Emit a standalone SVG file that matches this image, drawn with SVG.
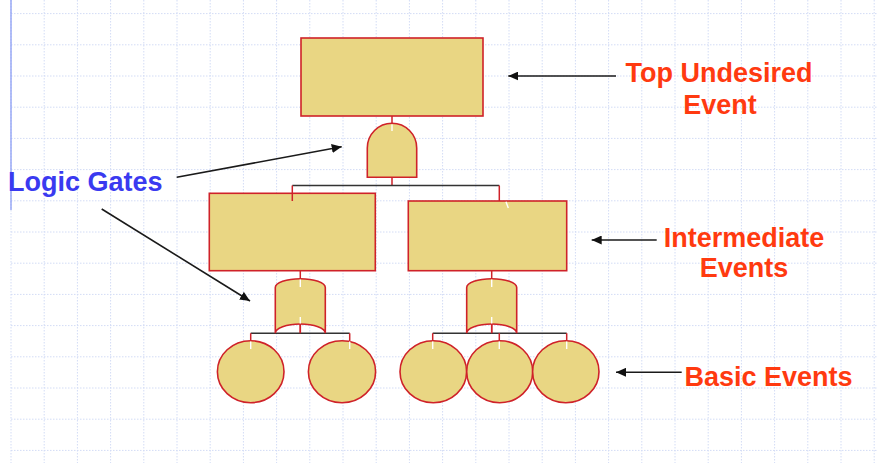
<svg xmlns="http://www.w3.org/2000/svg" width="877" height="463" viewBox="0 0 877 463">
<defs>
<style>
.grid{stroke:#d3dcf5;stroke-width:1;stroke-dasharray:1.5 1.5;fill:none}
.shape{fill:#e9d683;stroke:#cf2229;stroke-width:1.6}
.red{stroke:#cf2229;stroke-width:1.5;fill:none}
.blk{stroke:#333;stroke-width:1.5;fill:none}
.tick{stroke:#fff;stroke-width:1.4;fill:none}
.arrow{stroke:#1a1a1a;stroke-width:1.6;fill:none;marker-end:url(#ah)}
.lbl{font-family:"Liberation Sans",Arial,sans-serif;font-weight:bold;font-size:27px;fill:#ff3a10;text-anchor:middle}
.blue{fill:#3a3af0;text-anchor:start}
</style>
<marker id="ah" markerUnits="userSpaceOnUse" markerWidth="11" markerHeight="9" refX="10" refY="4.5" orient="auto">
<path d="M0,0 L10,4.5 L0,9 Z" fill="#111"/>
</marker>
</defs>
<rect width="877" height="463" fill="#fff"/>
<g id="grid">
<path class="grid" d="M11,0V463M44.2,0V463M77.4,0V463M110.6,0V463M143.8,0V463M177,0V463M210.2,0V463M243.4,0V463M276.6,0V463M309.8,0V463M343,0V463M376.2,0V463M409.4,0V463M442.6,0V463M475.8,0V463M509,0V463M542.2,0V463M575.4,0V463M608.6,0V463M641.8,0V463M675,0V463M708.2,0V463M741.4,0V463M774.6,0V463M807.8,0V463M841,0V463M874.2,0V463"/>
<path class="grid" d="M11,13.6H877M11,44.8H877M11,76H877M11,107.2H877M11,138.4H877M11,169.6H877M11,200.8H877M11,232H877M11,263.2H877M11,294.4H877M11,325.6H877M11,356.8H877M11,388H877M11,419.2H877M11,450.4H877"/>
<line x1="11" y1="0" x2="11" y2="210" stroke="#8a9cf5" stroke-width="1.3"/>
</g>
<g id="connectors">
<line class="red" x1="392" y1="116" x2="392" y2="124"/>
<line class="red" x1="392" y1="177" x2="392" y2="185.5"/>
<path class="blk" d="M292.3,185.5H499.3"/>
<line class="red" x1="292.3" y1="185.5" x2="292.3" y2="201"/>
<line class="red" x1="499.3" y1="185.5" x2="499.3" y2="201"/>
<line class="red" x1="300.3" y1="271" x2="300.3" y2="279"/>
<line class="red" x1="491.7" y1="271" x2="491.7" y2="279"/>
<line class="red" x1="300.3" y1="324" x2="300.3" y2="333.3"/>
<line class="red" x1="491.7" y1="324" x2="491.7" y2="333.3"/>
<path class="blk" d="M250.7,333.3H349.7M432.7,333.3H566.7"/>
<path class="red" d="M250.7,333.3V341M349.7,333.3V341M432.7,333.3V341M499.3,333.3V341M566.7,333.3V341"/>
</g>
<g id="top-event">
<rect class="shape" x="301" y="38" width="182" height="78"/>
</g>
<g id="and-gate">
<path class="shape" d="M367.3,177.3V148A24.7,24.7 0 0 1 416.7,148V177.3Z"/>
<line class="tick" x1="392" y1="124.5" x2="392" y2="131"/>
</g>
<g id="intermediate-left">
<rect class="shape" x="209.3" y="193.3" width="166" height="77.4"/>
<line class="red" x1="292.3" y1="193" x2="292.3" y2="201"/>
</g>
<g id="intermediate-right">
<rect class="shape" x="408.3" y="201" width="158.4" height="69.7"/>
<line class="tick" x1="506" y1="201.8" x2="508.3" y2="208"/>
</g>
<g id="or-gate-left">
<path class="shape" d="M275.3,333.3V287.5A25,8.8 0 0 1 325.3,287.5V333.3A25,9.3 0 0 0 275.3,333.3Z"/>
<line class="tick" x1="300.3" y1="279.5" x2="300.3" y2="287"/>
<line class="tick" x1="300.3" y1="317" x2="300.3" y2="323.5"/>
<line class="red" x1="300.3" y1="324" x2="300.3" y2="333.3"/>
</g>
<g id="or-gate-right">
<path class="shape" d="M466.7,333.3V287.5A25,8.8 0 0 1 516.7,287.5V333.3A25,9.3 0 0 0 466.7,333.3Z"/>
<line class="tick" x1="491.7" y1="279.5" x2="491.7" y2="287"/>
<line class="tick" x1="491.7" y1="317" x2="491.7" y2="323.5"/>
<line class="red" x1="491.7" y1="324" x2="491.7" y2="333.3"/>
</g>
<g id="basic-1">
<ellipse class="shape" cx="250.7" cy="371.7" rx="33.3" ry="31"/>
<line class="tick" x1="250.7" y1="341.5" x2="250.7" y2="349"/>
</g>
<g id="basic-2">
<ellipse class="shape" cx="342" cy="371.7" rx="33.6" ry="31"/>
<line class="tick" x1="349.7" y1="341.5" x2="349.7" y2="349"/>
</g>
<g id="basic-3">
<ellipse class="shape" cx="433.3" cy="371.7" rx="33.3" ry="31"/>
<line class="tick" x1="432.7" y1="341.5" x2="432.7" y2="349"/>
</g>
<g id="basic-4">
<ellipse class="shape" cx="499.7" cy="371.7" rx="33" ry="31"/>
<line class="tick" x1="499.3" y1="341.5" x2="499.3" y2="349"/>
</g>
<g id="basic-5">
<ellipse class="shape" cx="565.8" cy="371.7" rx="33.2" ry="31"/>
<line class="tick" x1="566.7" y1="341.5" x2="566.7" y2="349"/>
</g>
<g id="annotations">
<line class="arrow" x1="616" y1="76" x2="508.3" y2="76"/>
<line class="arrow" x1="656.7" y1="240" x2="591.7" y2="240"/>
<line class="arrow" x1="681.7" y1="372.3" x2="616" y2="372.3"/>
<line class="arrow" x1="176.7" y1="177.3" x2="341.7" y2="146.7"/>
<line class="arrow" x1="101.7" y1="209" x2="250" y2="301"/>
</g>
<g id="labels">
<text class="lbl" x="719" y="82.3">Top Undesired</text>
<text class="lbl" x="720" y="114">Event</text>
<text class="lbl" x="744" y="246.7">Intermediate</text>
<text class="lbl" x="744" y="277.3">Events</text>
<text class="lbl" x="768.5" y="385.7">Basic Events</text>
<text class="lbl blue" x="8" y="190.7">Logic Gates</text>
</g>
</svg>
